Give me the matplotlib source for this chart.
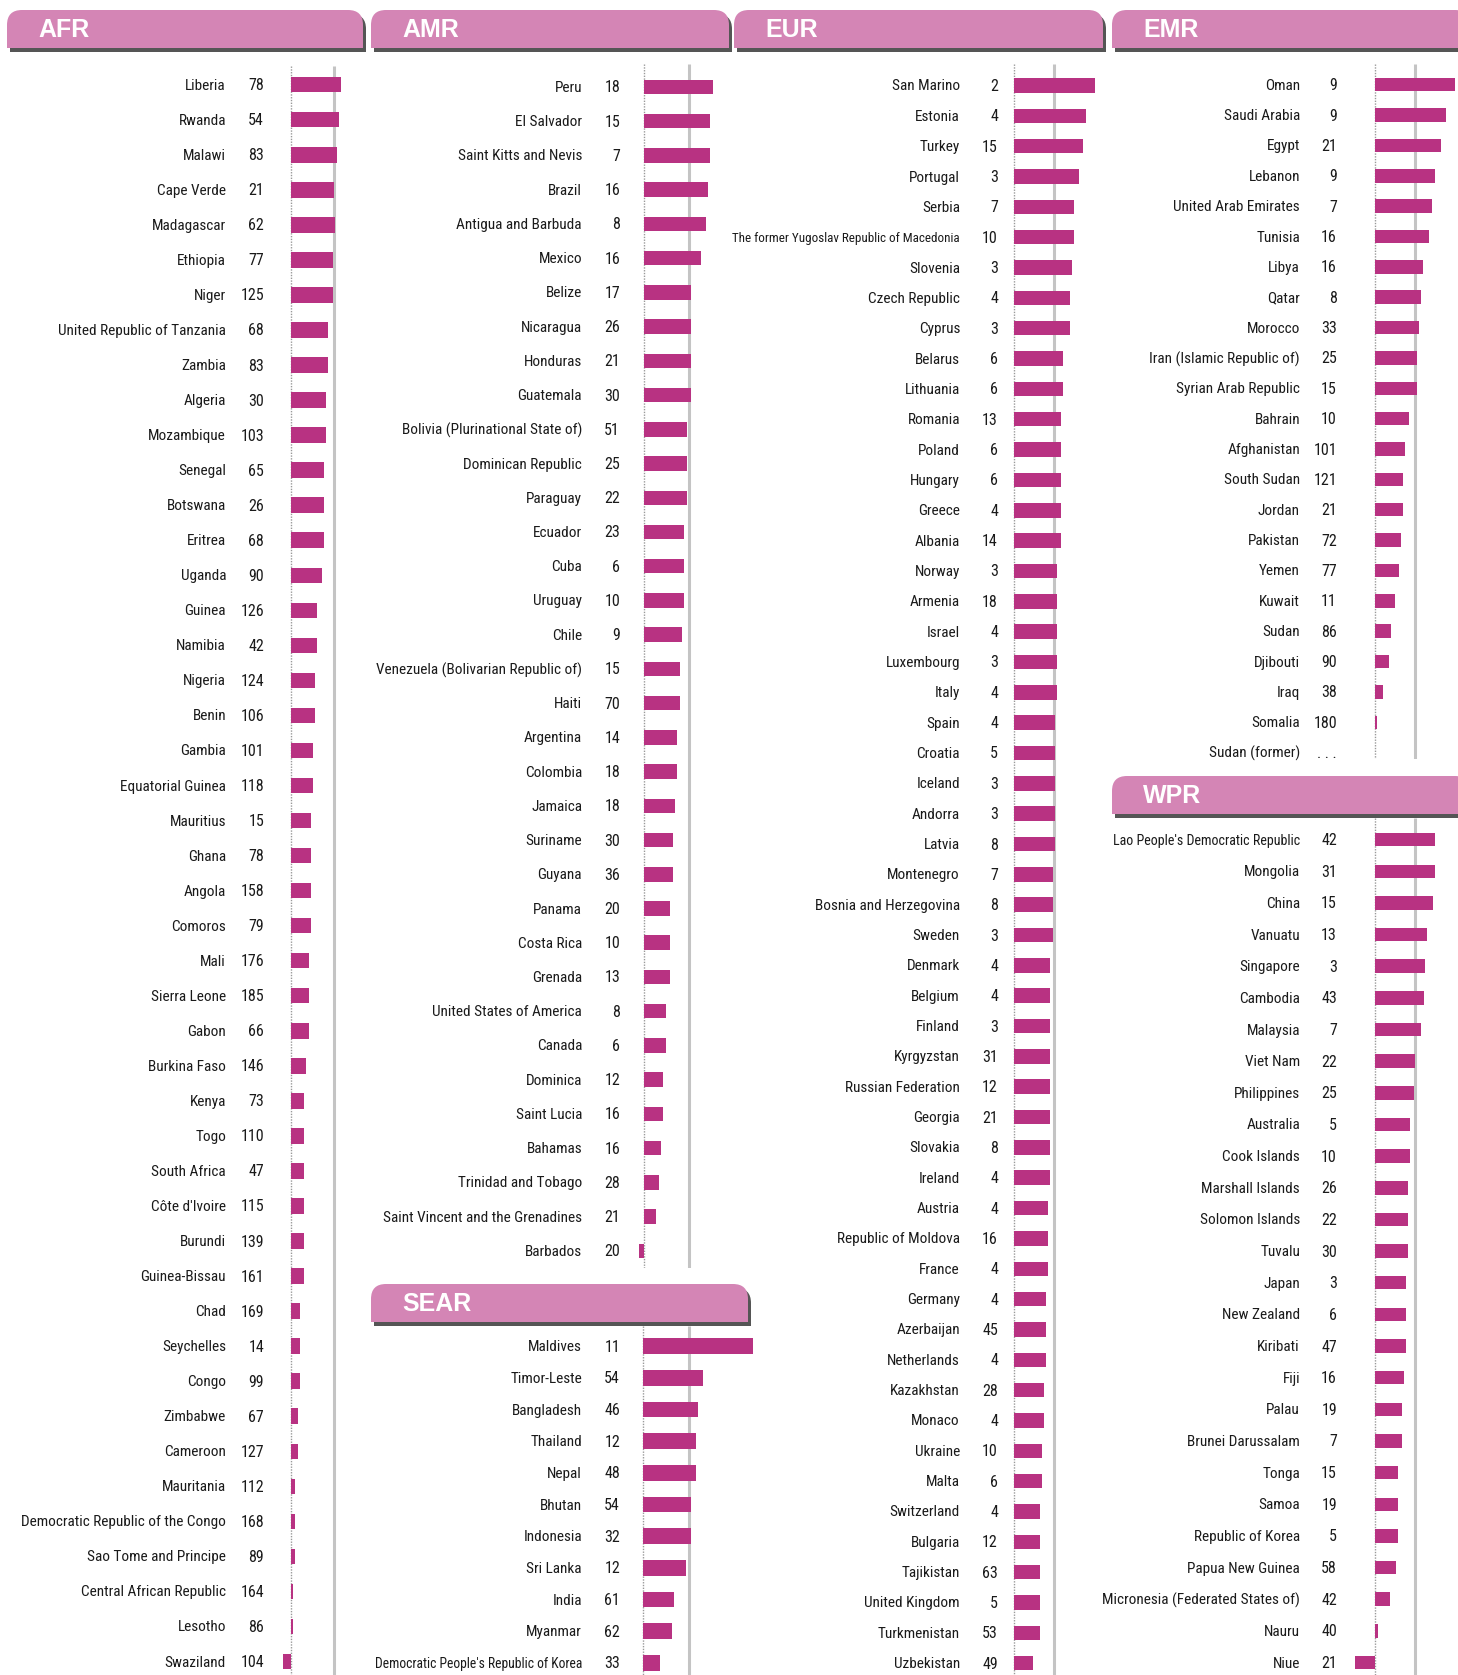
import matplotlib
matplotlib.use('Agg')
import matplotlib.pyplot as plt
from matplotlib.patches import FancyBboxPatch, Rectangle
from matplotlib.transforms import blended_transform_factory

plt.rcParams['font.family'] = ['Roboto Condensed', 'DejaVu Sans']
plt.rcParams['font.stretch'] = 'condensed'

# ---------------- data ----------------
REF_VALUE = 4.4

afr_countries = ["Liberia", "Rwanda", "Malawi", "Cape Verde", "Madagascar", "Ethiopia", "Niger",
                 "United Republic of Tanzania", "Zambia", "Algeria", "Mozambique", "Senegal", "Botswana",
                 "Eritrea", "Uganda", "Guinea", "Namibia", "Nigeria", "Benin", "Gambia", "Equatorial Guinea",
                 "Mauritius", "Ghana", "Angola", "Comoros", "Mali", "Sierra Leone", "Gabon", "Burkina Faso",
                 "Kenya", "Togo", "South Africa", "Côte d'Ivoire", "Burundi", "Guinea-Bissau", "Chad",
                 "Seychelles", "Congo", "Zimbabwe", "Cameroon", "Mauritania", "Democratic Republic of the Congo",
                 "Sao Tome and Principe", "Central African Republic", "Lesotho", "Swaziland"]
afr_ranks = ["78", "54", "83", "21", "62", "77", "125", "68", "83", "30", "103", "65", "26", "68", "90", "126",
             "42", "124", "106", "101", "118", "15", "78", "158", "79", "176", "185", "66", "146", "73", "110",
             "47", "115", "139", "161", "169", "14", "99", "67", "127", "112", "168", "89", "164", "86", "104"]
afr_values = [5.1, 4.9, 4.7, 4.4, 4.5, 4.3, 4.3, 3.8, 3.8, 3.6, 3.6, 3.4, 3.4, 3.4, 3.2, 2.7, 2.7, 2.5, 2.5,
              2.3, 2.3, 2.1, 2.1, 2.1, 2.1, 1.9, 1.9, 1.9, 1.6, 1.4, 1.4, 1.4, 1.4, 1.4, 1.4, 1.0, 1.0, 1.0,
              0.8, 0.8, 0.5, 0.5, 0.5, 0.3, 0.3, -0.8]

amr_countries = ["Peru", "El Salvador", "Saint Kitts and Nevis", "Brazil", "Antigua and Barbuda", "Mexico",
                 "Belize", "Nicaragua", "Honduras", "Guatemala", "Bolivia (Plurinational State of)",
                 "Dominican Republic", "Paraguay", "Ecuador", "Cuba", "Uruguay", "Chile",
                 "Venezuela (Bolivarian Republic of)", "Haiti", "Argentina", "Colombia", "Jamaica", "Suriname",
                 "Guyana", "Panama", "Costa Rica", "Grenada", "United States of America", "Canada", "Dominica",
                 "Saint Lucia", "Bahamas", "Trinidad and Tobago", "Saint Vincent and the Grenadines", "Barbados"]
amr_ranks = ["18", "15", "7", "16", "8", "16", "17", "26", "21", "30", "51", "25", "22", "23", "6", "10", "9",
             "15", "70", "14", "18", "18", "30", "36", "20", "10", "13", "8", "6", "12", "16", "16", "28", "21", "20"]
amr_values = [6.8, 6.5, 6.5, 6.3, 6.1, 5.6, 4.6, 4.6, 4.6, 4.6, 4.2, 4.2, 4.2, 3.9, 3.9, 3.9, 3.75, 3.55, 3.55,
              3.25, 3.25, 3.05, 2.85, 2.85, 2.55, 2.55, 2.55, 2.2, 2.2, 1.9, 1.9, 1.7, 1.5, 1.2, -0.45]

sear_countries = ["Maldives", "Timor-Leste", "Bangladesh", "Thailand", "Nepal", "Bhutan", "Indonesia",
                  "Sri Lanka", "India", "Myanmar", "Democratic People's Republic of Korea"]
sear_ranks = ["11", "54", "46", "12", "48", "54", "32", "12", "61", "62", "33"]
sear_values = [10.6, 5.8, 5.3, 5.1, 5.1, 4.6, 4.6, 4.15, 3.0, 2.8, 1.65]

eur_countries = ["San Marino", "Estonia", "Turkey", "Portugal", "Serbia",
                 "The former Yugoslav Republic of Macedonia", "Slovenia", "Czech Republic", "Cyprus", "Belarus",
                 "Lithuania", "Romania", "Poland", "Hungary", "Greece", "Albania", "Norway", "Armenia", "Israel",
                 "Luxembourg", "Italy", "Spain", "Croatia", "Iceland", "Andorra", "Latvia", "Montenegro",
                 "Bosnia and Herzegovina", "Sweden", "Denmark", "Belgium", "Finland", "Kyrgyzstan",
                 "Russian Federation", "Georgia", "Slovakia", "Ireland", "Austria", "Republic of Moldova",
                 "France", "Germany", "Azerbaijan", "Netherlands", "Kazakhstan", "Monaco", "Ukraine", "Malta",
                 "Switzerland", "Bulgaria", "Tajikistan", "United Kingdom", "Turkmenistan", "Uzbekistan"]
eur_ranks = ["2", "4", "15", "3", "7", "10", "3", "4", "3", "6", "6", "13", "6", "6", "4", "14", "3", "18", "4",
             "3", "4", "4", "5", "3", "3", "8", "7", "8", "3", "4", "4", "3", "31", "12", "21", "8", "4", "4",
             "16", "4", "4", "45", "4", "28", "4", "10", "6", "4", "12", "63", "5", "53", "49"]
eur_values = [8.9, 7.9, 7.5, 7.1, 6.55, 6.55, 6.35, 6.1, 6.1, 5.35, 5.35, 5.15, 5.15, 5.15, 5.15, 5.15,
              4.7, 4.7, 4.7, 4.7, 4.7, 4.5, 4.5, 4.5, 4.5, 4.5, 4.3, 4.3, 4.3, 3.95, 3.95, 3.95, 3.95, 3.95,
              3.95, 3.95, 3.95, 3.75, 3.75, 3.75, 3.55, 3.55, 3.55, 3.3, 3.3, 3.1, 3.1, 2.9, 2.9, 2.9, 2.9,
              2.9, 2.15]

emr_countries = ["Oman", "Saudi Arabia", "Egypt", "Lebanon", "United Arab Emirates", "Tunisia", "Libya",
                 "Qatar", "Morocco", "Iran (Islamic Republic of)", "Syrian Arab Republic", "Bahrain",
                 "Afghanistan", "South Sudan", "Jordan", "Pakistan", "Yemen", "Kuwait", "Sudan", "Djibouti",
                 "Iraq", "Somalia", "Sudan (former)"]
emr_ranks = ["9", "9", "21", "9", "7", "16", "16", "8", "33", "25", "15", "10", "101", "121", "21", "72", "77",
             "11", "86", "90", "38", "180", ". . ."]
emr_values = [8.7, 7.8, 7.2, 6.55, 6.3, 5.9, 5.25, 5.05, 4.85, 4.6, 4.6, 3.75, 3.35, 3.1, 3.1, 2.9, 2.7,
              2.25, 1.8, 1.6, 0.95, 0.3, None]

wpr_countries = ["Lao People's Democratic Republic", "Mongolia", "China", "Vanuatu", "Singapore", "Cambodia",
                 "Malaysia", "Viet Nam", "Philippines", "Australia", "Cook Islands", "Marshall Islands",
                 "Solomon Islands", "Tuvalu", "Japan", "New Zealand", "Kiribati", "Fiji", "Palau",
                 "Brunei Darussalam", "Tonga", "Samoa", "Republic of Korea", "Papua New Guinea",
                 "Micronesia (Federated States of)", "Nauru", "Niue"]
wpr_ranks = ["42", "31", "15", "13", "3", "43", "7", "22", "25", "5", "10", "26", "22", "30", "3", "6", "47",
             "16", "19", "7", "15", "19", "5", "58", "42", "40", "21"]
wpr_values = [6.65, 6.65, 6.4, 5.75, 5.55, 5.35, 5.1, 4.45, 4.25, 3.8, 3.8, 3.6, 3.6, 3.6, 3.4, 3.4, 3.4,
              3.15, 2.95, 2.95, 2.5, 2.5, 2.5, 2.3, 1.65, 0.35, -2.2]

# ---------------- layout (pixels) ----------------
W, H = 1458, 1675
PINK = '#D485B5'
BAR = '#B83282'
SHADOW = '#555555'
TXT = '#1a1a1a'

fig = plt.figure(figsize=(W / 100, H / 100), dpi=100)
fig.patch.set_facecolor('white')
bg = fig.add_axes([0, 0, 1, 1])
bg.set_xlim(0, W)
bg.set_ylim(H, 0)
bg.axis('off')


def tab(x0, y0, x1, y1, label):
    r = 15
    h = y1 - y0
    for dx, dy, col in [(3, 4, SHADOW), (0, 0, PINK)]:
        bg.add_patch(FancyBboxPatch((x0 + dx, y0 + dy), x1 - x0, h,
                                    boxstyle=f"round,pad=0,rounding_size={r}", fc=col, ec='none'))
        bg.add_patch(Rectangle((x0 + dx, y0 + dy + h / 2), x1 - x0, h / 2, fc=col, ec='none'))
    bg.text(x0 + 31, (y0 + y1) / 2 + 1, label, color='white', fontsize=18, fontweight='bold',
            family=['Liberation Sans', 'DejaVu Sans'], fontstretch='normal', ha='left', va='center')


tab(7, 10, 363, 48, 'AFR')
tab(371, 10, 729, 48, 'AMR')
tab(734, 10, 1103, 48, 'EUR')
tab(1112, 10, 1470, 48, 'EMR')
tab(371, 1284, 748, 1322, 'SEAR')
tab(1112, 776, 1470, 814, 'WPR')

panels = [
    # countries, ranks, values, name_x, rank_x, zero_x, ref_x, y0, dy, bar_h, line_top, line_bot
    (afr_countries, afr_ranks, afr_values, 226, 264, 290.5, 334.3, 84.7, 35.04, 15.5, 66, 1675),
    (amr_countries, amr_ranks, amr_values, 582, 620, 643.5, 688.7, 87.0, 34.23, 14.5, 64, 1268),
    (sear_countries, sear_ranks, sear_values, 582, 620, 643.0, 688.7, 1346.2, 31.67, 15.5, 1326, 1675),
    (eur_countries, eur_ranks, eur_values, 960, 998, 1013.5, 1054.0, 85.5, 30.34, 14.5, 64, 1675),
    (emr_countries, emr_ranks, emr_values, 1300, 1337, 1374.5, 1415.0, 84.7, 30.36, 13.5, 64, 759),
    (wpr_countries, wpr_ranks, wpr_values, 1300, 1337, 1375.0, 1415.0, 839.6, 31.65, 13.5, 818, 1675),
]

BASE_FS = 11.0
small_labels = {"The former Yugoslav Republic of Macedonia": 9.4,
                "Democratic People's Republic of Korea": 9.8,
                "Lao People's Democratic Republic": 10.1}

for (names, ranks, vals, name_x, rank_x, zx, rx, y0, dy, bh, lt, lb) in panels:
    ax_l, ax_r = zx - 60, zx + 125
    ax = fig.add_axes([ax_l / W, 1 - lb / H, (ax_r - ax_l) / W, (lb - lt) / H])
    ax.patch.set_alpha(0)
    ax.axis('off')
    k = (rx - zx) / REF_VALUE  # px per unit
    ax.set_xlim((ax_l - zx) / k, (ax_r - zx) / k)
    ax.set_ylim((lb - y0) / dy, (lt - y0) / dy)
    ytop, ybot = (lt - y0) / dy, (lb - y0) / dy
    ax.plot([0, 0], [ytop, ybot], color='#9a9a9a', lw=1.0, ls=(0, (1, 1)), solid_capstyle='butt')
    ax.plot([REF_VALUE, REF_VALUE], [ytop, ybot], color='#c4c4c4', lw=2.2, solid_capstyle='butt')
    idx = [i for i, v in enumerate(vals) if v is not None]
    ax.barh(idx, [vals[i] for i in idx], height=bh / dy, color=BAR, zorder=3)
    tr = blended_transform_factory(fig.transFigure, ax.transData)
    off = 1.0 / dy
    for i, (n, r) in enumerate(zip(names, ranks)):
        fs = small_labels.get(n, BASE_FS)
        ax.text(name_x / W, i + off, n, transform=tr, ha='right', va='center', fontsize=fs, color=TXT)
        ax.text(rank_x / W, i + off, r, transform=tr, ha='right', va='center', fontsize=11.5, color=TXT)

fig.savefig('out.png', dpi=100, facecolor='white')
